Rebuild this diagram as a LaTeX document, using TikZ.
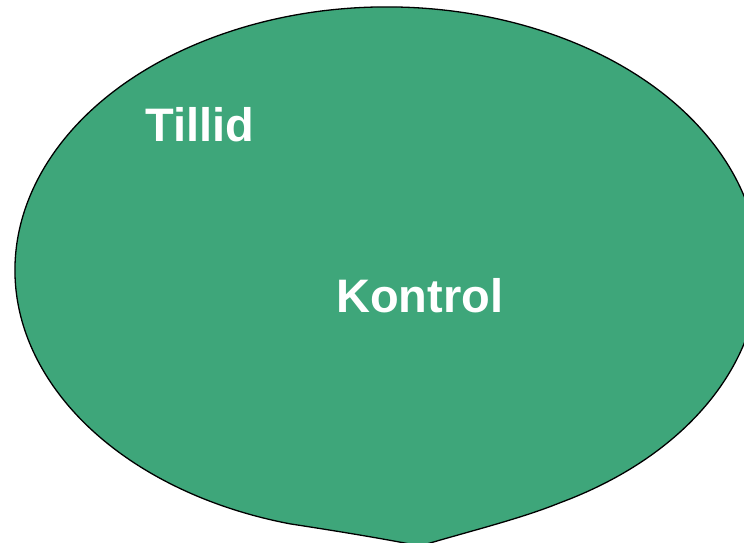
\documentclass[tikz,border=0pt]{standalone}
\usepackage{fontspec}
\setmainfont{Liberation Sans}
\definecolor{blobgreen}{RGB}{62,166,122}
\begin{document}
\begin{tikzpicture}[x=1pt,y=1pt,
  lbl/.style={text=white,font=\bfseries\fontsize{47}{50}\selectfont,inner sep=0pt,anchor=base west}]
\useasboundingbox (0,0) rectangle (744,543);
\clip (0,0) rectangle (744,543);
\coordinate (tip) at (420,-3);
\coordinate (rj) at (559.9,40.2);
\coordinate (lj) at (290.1,19.1);
\filldraw[fill=blobgreen,draw=black,line width=1.3pt]
  (tip) .. controls (470,12) and (520,24) .. (rj)
  arc[start angle=-62.3,end angle=254.9,x radius=372,y radius=263]
  .. controls (330,13) and (380,5) .. (tip) -- cycle;
\node[lbl] (tillid) at (145,401) {Tillid};
\node[lbl] (kontrol) at (336,230) {Kontrol};
\end{tikzpicture}
\end{document}
